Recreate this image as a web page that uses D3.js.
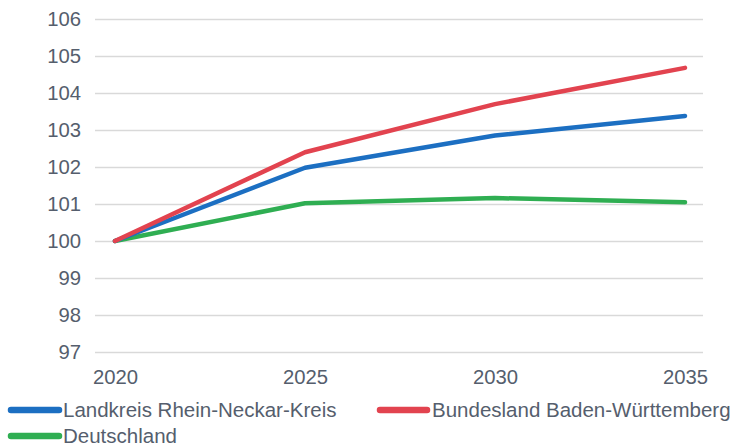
<!DOCTYPE html>
<html>
<head>
<meta charset="utf-8">
<script src="https://cdn.jsdelivr.net/npm/d3@7"></script>
<style>
html,body{margin:0;padding:0;background:#fff;}
svg{display:block;font-family:"Liberation Sans",Arial,sans-serif;}
</style>
</head>
<body>
<svg id="chart" width="730" height="446"></svg>
<script>
const years = ["2020", "2025", "2030", "2035"];
const yTicks = [97, 98, 99, 100, 101, 102, 103, 104, 105, 106];
const rheinNeckar = [100, 101.98, 102.85, 103.38];
const badenWuerttemberg = [100, 102.4, 103.7, 104.68];
const deutschland = [100, 101.02, 101.16, 101.05];
const seriesNames = ["Landkreis Rhein-Neckar-Kreis", "Bundesland Baden-Württemberg", "Deutschland"];
const seriesColors = ["#1c6fc2", "#e2434f", "#2fae52"];

const series = [rheinNeckar, badenWuerttemberg, deutschland].map((v, i) => ({
  name: seriesNames[i], color: seriesColors[i], values: v
}));

const svg = d3.select("#chart");
const textColor = "#555e6d";

const x = d3.scalePoint().domain(years).range([115, 685]);
const y = d3.scaleLinear().domain([97, 106]).range([352, 19]);

const gridLeft = 95, gridRight = 703;

// Y axis with gridlines
const yAxis = svg.append("g")
  .attr("transform", `translate(${gridLeft},0)`)
  .call(d3.axisLeft(y).tickValues(yTicks).tickFormat(d3.format("d"))
    .tickSize(-(gridRight - gridLeft)).tickPadding(14));
yAxis.select(".domain").remove();
yAxis.selectAll(".tick line").attr("stroke", "#d9d9d9").attr("stroke-width", 1.4);
yAxis.selectAll(".tick text").attr("fill", textColor).attr("font-size", 20.3)
  .attr("font-family", "'Liberation Sans', Arial, sans-serif");

// X axis
const xAxis = svg.append("g")
  .attr("transform", `translate(0,352)`)
  .call(d3.axisBottom(x).tickSize(0).tickPadding(18));
xAxis.select(".domain").remove();
xAxis.selectAll(".tick text").attr("fill", textColor).attr("font-size", 20.3)
  .attr("font-family", "'Liberation Sans', Arial, sans-serif");

// Lines
const line = d3.line()
  .x((d, i) => x(years[i]))
  .y(d => y(d));

svg.append("g").selectAll("path")
  .data([series[2], series[0], series[1]])
  .join("path")
  .attr("d", d => line(d.values))
  .attr("fill", "none")
  .attr("stroke", d => d.color)
  .attr("stroke-width", 4.5)
  .attr("stroke-linejoin", "round")
  .attr("stroke-linecap", "round");

// Legend
const legendPos = [
  { sx: 11, ex: 59, tx: 63, cy: 410 },
  { sx: 380, ex: 427, tx: 432, cy: 410 },
  { sx: 11, ex: 59, tx: 63, cy: 436 }
];
const lg = svg.append("g").selectAll("g").data(series).join("g");
lg.append("line")
  .attr("x1", (d, i) => legendPos[i].sx)
  .attr("x2", (d, i) => legendPos[i].ex)
  .attr("y1", (d, i) => legendPos[i].cy)
  .attr("y2", (d, i) => legendPos[i].cy)
  .attr("stroke", d => d.color)
  .attr("stroke-width", 6.5)
  .attr("stroke-linecap", "round");
lg.append("text")
  .attr("x", (d, i) => legendPos[i].tx)
  .attr("y", (d, i) => legendPos[i].cy + 7)
  .attr("fill", textColor)
  .attr("font-size", 20.5)
  .text(d => d.name);
</script>
</body>
</html>
